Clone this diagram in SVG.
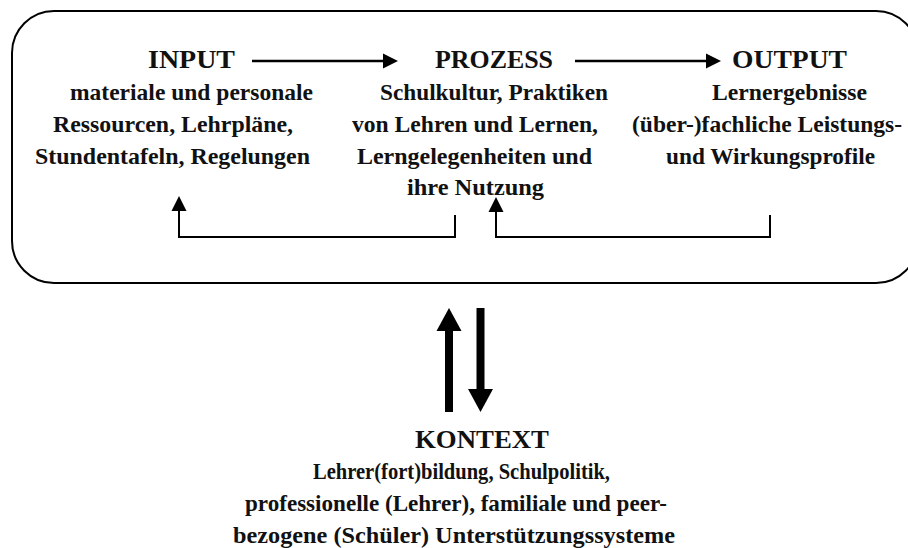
<svg xmlns="http://www.w3.org/2000/svg" width="908" height="548" viewBox="0 0 908 548">
<style>
  .t { font-family: "Liberation Serif", "Times New Roman", serif; font-weight: bold; font-size: 24px; fill: #111; text-anchor: middle; }
  .h { font-size: 25px; }
  .ln { fill: none; stroke: #000; stroke-width: 2; }
  .ha { fill: none; stroke: #000; stroke-width: 2.5; }
  .big { fill: none; stroke: #000; stroke-width: 8; }
</style>
<defs>
  <marker id="head" markerUnits="userSpaceOnUse" markerWidth="16" markerHeight="16" refX="0" refY="7.5" orient="auto" viewBox="0 0 16 15">
    <path d="M0,0 L15,7.5 L0,15 z" fill="#000"/>
  </marker>
  <marker id="bighead" markerUnits="userSpaceOnUse" markerWidth="24" markerHeight="26" refX="0" refY="12.5" orient="auto" viewBox="0 0 24 25">
    <path d="M0,0 L23,12.5 L0,25 z" fill="#000"/>
  </marker>
</defs>

<g id="schule">
  <rect x="12" y="11" width="906" height="272" rx="42" ry="42" fill="none" stroke="#000" stroke-width="2"/>
</g>

<g id="input">
  <text class="t h" x="191.5" y="68" textLength="87" lengthAdjust="spacingAndGlyphs">INPUT</text>
  <text class="t" x="191.5" y="100" textLength="243" lengthAdjust="spacingAndGlyphs">materiale und personale</text>
  <text class="t" x="173" y="132" textLength="240" lengthAdjust="spacingAndGlyphs">Ressourcen, Lehrpläne,</text>
  <text class="t" x="172.5" y="164" textLength="275" lengthAdjust="spacingAndGlyphs">Stundentafeln, Regelungen</text>
</g>

<g id="prozess">
  <text class="t h" x="494" y="68" textLength="118" lengthAdjust="spacingAndGlyphs">PROZESS</text>
  <text class="t" x="494" y="100" textLength="228" lengthAdjust="spacingAndGlyphs">Schulkultur, Praktiken</text>
  <text class="t" x="475" y="132" textLength="246" lengthAdjust="spacingAndGlyphs">von Lehren und Lernen,</text>
  <text class="t" x="474.5" y="164" textLength="235" lengthAdjust="spacingAndGlyphs">Lerngelegenheiten und</text>
  <text class="t" x="475.5" y="195" textLength="137" lengthAdjust="spacingAndGlyphs">ihre Nutzung</text>
</g>

<g id="output">
  <text class="t h" x="789.5" y="68" textLength="115" lengthAdjust="spacingAndGlyphs">OUTPUT</text>
  <text class="t" x="789.5" y="100" textLength="155" lengthAdjust="spacingAndGlyphs">Lernergebnisse</text>
  <text class="t" x="767" y="132" textLength="270" lengthAdjust="spacingAndGlyphs">(über-)fachliche Leistungs-</text>
  <text class="t" x="770.5" y="164" textLength="209" lengthAdjust="spacingAndGlyphs">und Wirkungsprofile</text>
</g>

<g id="kontext">
  <text class="t h" x="482" y="448" textLength="134" lengthAdjust="spacingAndGlyphs">KONTEXT</text>
  <text class="t" x="461.5" y="479" textLength="297" lengthAdjust="spacingAndGlyphs">Lehrer(fort)bildung, Schulpolitik,</text>
  <text class="t" x="456" y="511" textLength="422" lengthAdjust="spacingAndGlyphs">professionelle (Lehrer), familiale und peer-</text>
  <text class="t" x="454" y="543" textLength="442" lengthAdjust="spacingAndGlyphs">bezogene (Schüler) Unterstützungssysteme</text>
</g>

<g id="connectors">
  <path class="ha" d="M252,61 H383" marker-end="url(#head)"/>
  <path class="ha" d="M575,61 H706" marker-end="url(#head)"/>
  <path class="ln" d="M455,215 V237 H179 V211" marker-end="url(#head)"/>
  <path class="ln" d="M770,215 V237 H496 V212" marker-end="url(#head)"/>
  <path class="big" d="M449,412 V331" marker-end="url(#bighead)"/>
  <path class="big" d="M480.5,308 V389" marker-end="url(#bighead)"/>
</g>
</svg>
